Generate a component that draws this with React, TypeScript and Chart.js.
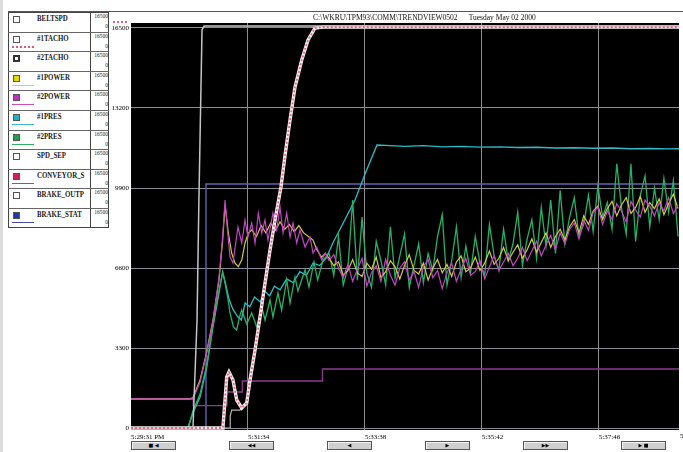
import React, { useEffect, useRef } from "react";
import { Chart, registerables } from "chart.js";

Chart.register(...registerables);

// ---------------- data ----------------
const SERIES_NAMES = ["BELTSPD", "#1TACHO", "#2TACHO", "#1POWER", "#2POWER", "#1PRES", "#2PRES", "SPD_SEP", "CONVEYOR_S", "BRAKE_OUTP", "BRAKE_STAT"];
const LEGEND_MAX = "16500";
const LEGEND_MIN = "0";
const TITLE = "C:\\WKRU\\TPM93\\COMM\\TRENDVIEW0502      Tuesday May 02 2000";
const BUTTON_ICONS = ["■ ◀", "◀◀", "◀", "▶", "▶▶", "▶ ■"];

const X_MAX = 581; // seconds after 5:29:31 PM
const X_TICK_VALUES = [0, 124, 248, 372, 496];
const X_TICK_LABELS = ["5:29:31 PM", "5:31:34", "5:33:38", "5:35:42", "5:37:46"];
const X_END_LABEL = "5:39:50";
const Y_MIN = -82;
const Y_MAX = 16706;
const Y_TICK_VALUES = [0, 3300, 6600, 9900, 13200, 16500];

// BELTSPD
const BELT_T = [0, 65.7, 70, 72, 75.3, 77.4, 581];
const BELT_V = [0, 0, 4455, 9405, 16420, 16580, 16580];

// #1TACHO / #2TACHO
const TACHO_T = [0, 96.5, 97.5, 99.7, 101.5, 103.9, 108.1, 112.1, 117.4, 122.7, 126.2, 131.5, 136.8, 142.1, 147.4, 152.7, 159, 163.5, 168.6, 173.9, 181, 187.7, 195.1, 203.6, 581];
const TACHO1_V = [0, 0, 41, 1155, 2104, 2310, 1980, 1155, 825, 1031, 1980, 3218, 4579, 5981, 7343, 8580, 9941, 11300, 12705, 14066, 15180, 16005, 16500, 16541, 16541];
const TACHO2_V = [0, 0, 41, 1155, 2104, 2310, 1980, 1155, 825, 1031, 1980, 3218, 4579, 5981, 7343, 8580, 9941, 11300, 12705, 14066, 15180, 16005, 16500, 16541, 16541];

// SPD_SEP
const SEP_T = [0, 105, 105.2, 106.8, 115.5, 117.4, 122.7, 126.2, 131.5, 136.8, 142.1, 147.4, 152.7, 159, 163.5, 168.6, 173.9, 181, 187.7, 195.1, 203.6, 581];
const SEP_V = [0, 0, 500, 740, 740, 825, 1031, 1980, 3218, 4579, 5981, 7343, 8580, 9941, 11300, 12705, 14066, 15180, 16005, 16500, 16541, 16541];

// #1POWER early part
const POWER1_T = [0, 62, 65.7, 73.2, 79.5, 86.9, 93.3, 97.2, 99.7, 103.2, 106.7, 110.2, 113.7, 117.4, 120.9, 124.4, 128, 133, 138, 143, 148, 153, 158, 163, 168, 173, 178, 183, 188, 193, 197, 202, 206];
const POWER1_V = [1200, 1200, 1250, 1980, 3011, 4455, 6105, 7755, 9199, 8044, 7219, 6806, 6655, 6930, 7631, 8044, 8168, 7900, 8350, 8050, 8450, 8150, 8500, 8200, 8400, 8100, 8350, 8050, 7900, 7750, 7350, 7050, 7200];

// #2POWER early part
const POWER2_T = [0, 62, 65.7, 73.2, 79.5, 86.9, 93.3, 97.2, 99.7, 102, 105, 108.1, 113.4, 117.4, 120.9, 124, 128, 131.5, 135, 138.6, 142.1, 145.2, 150.5, 154.5, 158, 161.2, 165.1, 168.6, 171.8, 175.7, 179.2, 184.5, 189.8, 193, 196.9, 202.2, 206];
const POWER2_V = [1200, 1200, 1200, 1900, 2950, 4400, 6200, 7900, 9405, 8300, 7054, 6806, 8291, 7631, 8580, 7879, 8456, 7631, 8869, 8044, 8580, 7755, 8869, 8168, 9116, 8044, 8869, 7879, 8456, 7631, 8168, 7466, 7879, 7219, 7466, 6930, 7219];

// #2PRES early part
const PRES2_T = [0, 60.4, 65.7, 73.2, 80.3, 86.9, 94.4, 97.2, 99.7, 103, 105, 108.6, 112, 115, 117.4, 122.7, 128, 133.3, 138.6, 142.1, 147.4, 150.5, 155.8, 159.7, 165.1, 168.6, 173.9, 177, 184.5, 188.7, 194, 197.9, 203.6];
const PRES2_V = [0, 0, 700, 1400, 2600, 4300, 5900, 6435, 5981, 5280, 4744, 4166, 4043, 4579, 4868, 4290, 4744, 4166, 5000, 4455, 5280, 4579, 5569, 4868, 6105, 5156, 6229, 5651, 6518, 5816, 6848, 6105, 6930];

// #1PRES (whole run)
const PRES1_T = [0, 60.4, 65.7, 73.2, 80.3, 86.9, 94.4, 97.2, 100, 104, 108, 113, 117, 121, 126, 131, 137, 142, 147, 152, 158, 165, 172, 179, 186, 193, 200, 207, 214, 222, 237.5, 249, 260.8, 270, 290, 310, 330, 350, 370, 390, 410, 430, 450, 470, 490, 510, 530, 550, 570, 581];
const PRES1_V = [0, 0, 619, 1279, 2516, 4166, 5816, 6435, 6000, 5300, 4900, 4600, 4455, 5156, 5000, 5404, 5200, 5650, 5450, 5850, 5700, 6150, 6000, 6450, 6300, 6806, 6700, 7013, 7631, 8230, 9405, 10560, 11674, 11660, 11620, 11650, 11600, 11620, 11590, 11600, 11570, 11580, 11550, 11560, 11540, 11550, 11520, 11530, 11510, 11520];

// noisy steady-running part (shared sample times)
const CLUSTER_T = [210, 215, 220, 225, 230, 235, 240, 245, 250, 255, 260, 265, 270, 275, 280, 285, 290, 295, 300, 305, 310, 315, 320, 325, 330, 335, 340, 345, 350, 355, 360, 365, 370, 375, 380, 385, 390, 395, 400, 405, 410, 415, 420, 425, 430, 435, 440, 445, 450, 455, 460, 465, 470, 475, 480, 485, 490, 495, 500, 505, 510, 515, 520, 525, 530, 535, 540, 545, 550, 555, 560, 565, 570, 575, 580];
const POWER1_C = [
  7000, 6700, 6850, 6300, 6500, 6950, 6400, 6250, 6800, 6550,
  7050, 6200, 6450, 6900, 6650, 6150, 6700, 7150, 6500, 6350,
  6800, 6100, 6600, 6950, 6400, 6750, 6250, 6850, 7100, 6450,
  6600, 7050, 6500, 6800, 7300, 6750, 7000, 7450, 6900, 7250,
  7550, 7000, 7350, 7800, 7250, 7650, 8050, 7450, 7900, 8200,
  7750, 8300, 8600, 8050, 8750, 8400, 8950, 9150, 8600, 9050,
  9350, 8750, 9200, 9500, 8850, 9100, 9550, 8900, 9300, 9050,
  9450, 8800, 9250, 9650, 9050,
];
const POWER2_C = [
  6900, 7150, 6600, 6200, 6750, 6050, 6550, 7000, 5850, 6400,
  6700, 6050, 6950, 6300, 5900, 6600, 6850, 6100, 6450, 5800,
  6650, 6950, 6200, 6500, 5750, 6400, 6800, 6050, 6550, 7000,
  6300, 6450, 6900, 6150, 6650, 7100, 6500, 6850, 7200, 6700,
  7000, 7450, 6900, 7300, 7700, 7100, 7550, 7950, 7350, 8050,
  7600, 8200, 8450, 7800, 8600, 8150, 8900, 9100, 8400, 8950,
  8600, 9250, 8950, 8500, 9350, 9000, 8700, 9400, 9150, 8750,
  9300, 8950, 9500, 8850, 9200,
];
const PRES2_C = [
  7200, 6300, 7900, 5900, 6600, 9400, 6100, 8700, 6400, 5800,
  7700, 6900, 5900, 8300, 6200, 7100, 8000, 5800, 6700, 7600,
  6000, 7200, 6500, 7900, 8800, 5900, 6900, 8300, 6200, 7500,
  6400, 7900, 6800, 6300, 8400, 7100, 6500, 8200, 6900, 7600,
  8900, 6700, 7800, 8600, 7000, 9100, 7500, 9400, 7200, 9800,
  7600, 8700, 9500, 7900, 8400, 9600, 8100, 10000, 8700, 9300,
  8200, 10900, 9100, 8000, 10900, 7700, 9600, 10400, 8300, 9900,
  8600, 10300, 8900, 10200, 7900,
];

// CONVEYOR_S (step line)
const CONV_T = [0, 66, 66, 101.8, 101.8, 118, 118, 203, 203, 581];
const CONV_V = [1196, 1196, 920, 920, 1485, 1485, 1939, 1939, 2434, 2434];

// BRAKE_STAT (step line)
const BRAKE_T = [0, 79.5, 79.5, 581];
const BRAKE_V = [0, 0, 10065, 10065];

// ---------------- styles (not data) ----------------
const LEGEND_FILL = ["#ffffff", "#ffffff", "#ffffff", "#e4d400", "#c030c0", "#20b0c8", "#20a048", "#ffffff", "#d0205c", "#ffffff", "#2038a8"];
const LEGEND_LINE: (string | null)[] = [null, "#e05a78", null, "#d8d040", "#d050b0", "#40b8d0", "#30b060", null, "#8a50a8", null, "#4848a8"];

function pts(t: number[], v: number[]) {
  return t.map((x, i) => ({ x, y: v[i] }));
}

export default function App() {
  const ref = useRef<HTMLCanvasElement | null>(null);

  useEffect(() => {
    const canvas = ref.current;
    if (!canvas) return;

    const bgPlugin = {
      id: "plotBg",
      beforeDraw(chart: any) {
        const { ctx, chartArea: a } = chart;
        ctx.save();
        ctx.fillStyle = "#000";
        ctx.fillRect(a.left, a.top, a.right - a.left, a.bottom - a.top);
        ctx.restore();
      },
    };
    const endLabelPlugin = {
      id: "endLabel",
      afterDraw(chart: any) {
        const { ctx, chartArea: a } = chart;
        const x = chart.scales.x.getPixelForValue(X_MAX);
        ctx.save();
        ctx.font = '7px "Liberation Serif"';
        ctx.fillStyle = "#000";
        ctx.textAlign = "left";
        ctx.textBaseline = "top";
        ctx.fillText(X_END_LABEL, x + 1, a.bottom + 3);
        ctx.restore();
      },
    };

    const line = (label: string, data: any[], color: string, width: number, order: number, extra: any = {}) => ({
      label,
      data,
      borderColor: color,
      backgroundColor: color,
      borderWidth: width,
      pointRadius: 0,
      tension: 0,
      fill: false,
      order,
      ...extra,
    });

    const datasets = [
      line(SERIES_NAMES[10], pts(BRAKE_T, BRAKE_V), "#6262b0", 1.4, 9),
      line(SERIES_NAMES[8], pts(CONV_T, CONV_V), "#8c3c8c", 1.3, 8),
      line(SERIES_NAMES[5], pts(PRES1_T, PRES1_V), "#2fbcc6", 1.3, 7),
      line(SERIES_NAMES[6], pts(PRES2_T.concat(CLUSTER_T), PRES2_V.concat(PRES2_C)), "#26b266", 1.3, 6),
      line(SERIES_NAMES[3], pts(POWER1_T.concat(CLUSTER_T), POWER1_V.concat(POWER1_C)), "#d2ca3e", 1.2, 5),
      line(SERIES_NAMES[4], pts(POWER2_T.concat(CLUSTER_T), POWER2_V.concat(POWER2_C)), "#c246c2", 1.2, 4),
      line(SERIES_NAMES[7], pts(SEP_T, SEP_V), "#b4b4b4", 1.2, 3),
      line(SERIES_NAMES[2], pts(TACHO_T, TACHO2_V), "#f4eef0", 3.4, 2),
      line(SERIES_NAMES[0], pts(BELT_T, BELT_V), "#c4c4c4", 1.5, 1),
      line(SERIES_NAMES[1], pts(TACHO_T, TACHO1_V), "#e46a88", 1.8, 0, { borderDash: [2, 2] }),
    ];

    const font = { family: '"Liberation Serif", serif', size: 7 };

    const chart = new Chart(canvas, {
      type: "line",
      data: { datasets },
      options: {
        animation: false,
        responsive: false,
        devicePixelRatio: 1,
        events: [],
        layout: { padding: { left: 111, top: 23, right: 4, bottom: 10 } },
        plugins: { legend: { display: false }, tooltip: { enabled: false }, title: { display: false } },
        scales: {
          x: {
            type: "linear",
            min: 0,
            max: X_MAX,
            border: { display: false },
            grid: {
              color: (c: any) => (c.tick && c.tick.value === 0 ? "rgba(0,0,0,0)" : "#8c8c8c"),
              lineWidth: 1,
              drawTicks: false,
            },
            ticks: {
              align: "start",
              padding: 3,
              autoSkip: false,
              maxRotation: 0,
              color: "#000",
              font,
              callback: (value: any) => {
                const i = X_TICK_VALUES.indexOf(Number(value));
                return i >= 0 ? X_TICK_LABELS[i] : "";
              },
            },
            afterBuildTicks: (s: any) => {
              s.ticks = X_TICK_VALUES.map((v) => ({ value: v }));
            },
            afterFit: (s: any) => {
              s.height = 12;
            },
          } as any,
          y: {
            type: "linear",
            min: Y_MIN,
            max: Y_MAX,
            border: { display: false },
            grid: { color: "#8a8a98", lineWidth: 1, drawTicks: false },
            ticks: {
              padding: 2,
              color: "#000",
              font,
              autoSkip: false,
              callback: (value: any) => String(value),
            },
            afterBuildTicks: (s: any) => {
              s.ticks = Y_TICK_VALUES.map((v) => ({ value: v }));
            },
            afterFit: (s: any) => {
              s.width = 20;
            },
          } as any,
        },
      },
      plugins: [bgPlugin, endLabelPlugin],
    } as any);

    return () => chart.destroy();
  }, []);

  const rowH = 19.6;
  const tableTop = 12;

  return (
    <div
      style={{
        position: "fixed",
        left: 0,
        top: 0,
        width: 683,
        height: 452,
        background: "#fff",
        overflow: "hidden",
        fontFamily: '"Liberation Serif", serif',
      }}
    >
      <canvas ref={ref} width={683} height={452} style={{ position: "absolute", left: 0, top: 0, width: 683, height: 452 }} />
      {/* left edge shading */}
      <div style={{ position: "absolute", left: 0, top: 0, width: 3, height: 452, background: "#dcdcdc" }} />
      {/* top frame line */}
      <div style={{ position: "absolute", left: 8, top: 11, width: 675, height: 1, background: "#555" }} />
      {/* title */}
      <div
        style={{
          position: "absolute",
          left: 313,
          top: 13,
          fontSize: 7.5,
          lineHeight: "9px",
          whiteSpace: "pre",
          color: "#111",
        }}
      >
        {TITLE}
      </div>
      {/* pink marker near top */}
      <div style={{ position: "absolute", left: 113, top: 21, width: 14, height: 0, borderTop: "2px dotted #e06080" }} />

      {/* legend table */}
      <div
        style={{
          position: "absolute",
          left: 8,
          top: tableTop,
          width: 101,
          height: Math.round(rowH * SERIES_NAMES.length),
          border: "1px solid #444",
          boxSizing: "border-box",
          background: "#fff",
        }}
      />
      <div
        style={{
          position: "absolute",
          left: 90,
          top: tableTop,
          width: 1,
          height: Math.round(rowH * SERIES_NAMES.length),
          background: "#444",
        }}
      />
      {SERIES_NAMES.map((name, i) => {
        const top = tableTop + i * rowH;
        const lc = LEGEND_LINE[i];
        return (
          <React.Fragment key={name}>
            {i > 0 && <div style={{ position: "absolute", left: 8, top: Math.round(top), width: 101, height: 1, background: "#666" }} />}
            <div
              style={{
                position: "absolute",
                left: 13,
                top: Math.round(top + 4),
                width: 7,
                height: 7,
                boxSizing: "border-box",
                border: i === 2 ? "2px solid #333" : "1px solid #555",
                background: LEGEND_FILL[i],
              }}
            />
            {lc && (
              <div
                style={{
                  position: "absolute",
                  left: 12,
                  top: Math.round(top + 14),
                  width: 22,
                  height: 0,
                  borderTop: i === 1 ? `2px dotted ${lc}` : `1.5px solid ${lc}`,
                }}
              />
            )}
            <div
              style={{
                position: "absolute",
                left: 37,
                top: Math.round(top + 2),
                whiteSpace: "nowrap",
                fontSize: 8,
                fontWeight: "bold",
                lineHeight: "10px",
                color: "#222",
                transform: "scaleX(0.86)",
                transformOrigin: "left top",
              }}
            >
              {name}
            </div>
            <div
              style={{
                position: "absolute",
                left: 91,
                top: Math.round(top + 1),
                width: 17,
                textAlign: "right",
                fontSize: 5.5,
                lineHeight: "7px",
                color: "#222",
              }}
            >
              {LEGEND_MAX}
            </div>
            <div
              style={{
                position: "absolute",
                left: 91,
                top: Math.round(top + 11),
                width: 17,
                textAlign: "right",
                fontSize: 5.5,
                lineHeight: "7px",
                color: "#222",
              }}
            >
              {LEGEND_MIN}
            </div>
          </React.Fragment>
        );
      })}

      {/* navigation buttons */}
      {BUTTON_ICONS.map((icon, i) => (
        <div
          key={i}
          style={{
            position: "absolute",
            left: 131 + Math.round(i * 98),
            top: 441,
            width: 45,
            height: 9,
            boxSizing: "border-box",
            border: "1px solid #555",
            background: "#cfcfcf",
            boxShadow: "inset 1px 1px 0 #f4f4f4",
            fontFamily: '"DejaVu Sans", sans-serif',
            fontSize: 5,
            lineHeight: "7px",
            textAlign: "center",
            color: "#000",
            whiteSpace: "pre",
          }}
        >
          {icon}
        </div>
      ))}
    </div>
  );
}
